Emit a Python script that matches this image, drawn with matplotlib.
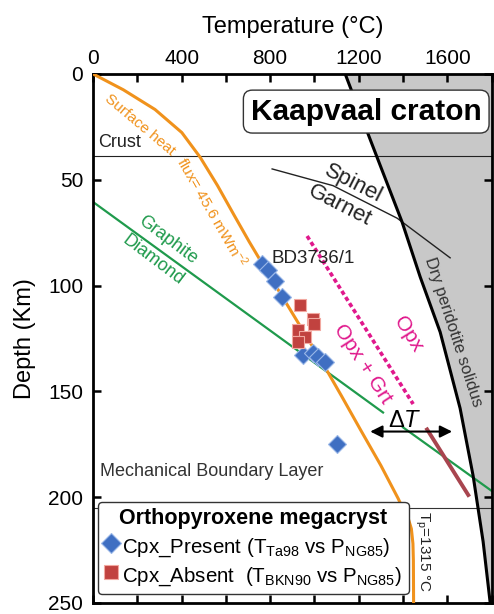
import matplotlib
matplotlib.use("Agg")
import matplotlib.pyplot as plt
from matplotlib.lines import Line2D

plt.rcParams['font.family'] = ['Liberation Sans', 'DejaVu Sans']
plt.rcParams['mathtext.fontset'] = 'custom'
plt.rcParams['mathtext.rm'] = 'Liberation Sans'
plt.rcParams['mathtext.it'] = 'Liberation Sans:italic'

# geotherm, surface heat flux 45.6 mW/m2 (T degC, depth km)
geo_T = [0, 137, 280, 401, 484, 562, 637, 706, 758, 1039, 1123, 1210, 1300,
         1378, 1400, 1425, 1438, 1445, 1447, 1448]
geo_D = [0, 7.5, 16.8, 27.7, 39.4, 52.7, 66.7, 79.4, 88.5, 137, 152.3, 168.5, 185,
         200.6, 205.5, 210.5, 215, 222, 230, 250]

# dry peridotite solidus
sol_T = [1139, 1252, 1396, 1478, 1568, 1658, 1717, 1762, 1794]
sol_D = [0, 31, 70, 96, 122, 158, 190, 221, 250]

# spinel / garnet transition
sg_T = [809, 1084, 1374, 1613]
sg_D = [44.9, 52.8, 68.2, 86.9]

# graphite / diamond (two pieces, gap at the delta-T label)
gd1_T, gd1_D = [0, 1310], [60.5, 160]
gd2_T, gd2_D = [1400, 1800], [167, 197]

# Opx / Opx+Grt boundary
opx_T, opx_D = [967, 1446], [76.6, 156]

# dark red segment
seg_T, seg_D = [1509, 1695], [168, 199]

crust_D = 39
mbl_D = 205

# Cpx_Present (T_Ta98 vs P_NG85)
cpx_pres_T = [764, 791, 822, 854, 949, 994, 1017, 1048, 1103]
cpx_pres_D = [90, 92.5, 97.7, 105.6, 132.7, 132, 133.6, 136, 175]

# Cpx_Absent (T_BKN90 vs P_NG85)
cpx_abs_T = [935, 994, 999, 926, 958, 926]
cpx_abs_D = [109.3, 115.9, 118.2, 121, 124.3, 126.6]

ORANGE = "#f0921c"
GREEN = "#1f9a4c"
MAGENTA = "#e0188c"
BLUE = "#3f6fc2"
RED = "#c1423f"

fig = plt.figure(figsize=(4.94, 6.14), dpi=100)
ax = fig.add_axes([0.1883, 0.018, 0.8067, 0.8616])

ax.fill_betweenx(sol_D, sol_T, 1800, color="#c8c8c8", zorder=0)
ax.plot(sol_T, sol_D, color="black", lw=2.2, zorder=3)

ax.axhline(crust_D, color="#222222", lw=0.8, zorder=1)
ax.axhline(mbl_D, color="#333333", lw=0.8, zorder=1)

ax.plot(sg_T, sg_D, color="#222222", lw=1.0, zorder=2)
ax.plot(gd1_T, gd1_D, color=GREEN, lw=1.6, zorder=2)
ax.plot(gd2_T, gd2_D, color=GREEN, lw=1.6, zorder=2)
ax.plot(opx_T, opx_D, color=MAGENTA, lw=2.6, ls=(0, (1.2, 0.8)), zorder=2)
ax.plot(seg_T, seg_D, color="#a8454f", lw=2.8, zorder=2)
ax.plot(geo_T, geo_D, color=ORANGE, lw=2.2, zorder=3)

ax.plot(cpx_pres_T, cpx_pres_D, ls="none", marker="D", ms=9.5, mfc=BLUE,
        mec="#9ab8e8", mew=0.8, zorder=5)
ax.plot(cpx_abs_T, cpx_abs_D, ls="none", marker="s", ms=9, mfc=RED,
        mec="#f2a8a0", mew=0.8, zorder=5)

ax.annotate("", xy=(1252, 169), xytext=(1622, 169),
            arrowprops=dict(arrowstyle="<|-|>", color="black", lw=1.5,
                            mutation_scale=18, shrinkA=0, shrinkB=0), zorder=4)
ax.text(1410, 164, r"$\Delta T$", fontsize=17, ha="center", va="center")

ax.text(1234, 17.8, "Kaapvaal craton", fontsize=21.5, fontweight="bold",
        ha="center", va="center", zorder=6,
        bbox=dict(boxstyle="round,pad=0.25,rounding_size=0.3", fc="white",
                  ec="#333333", lw=1.0))

ax.text(25, 36.5, "Crust", fontsize=13, color="#222222", ha="left", va="bottom")
ax.text(32, 188, "Mechanical Boundary Layer", fontsize=13, color="#333333",
        ha="left", va="center")
# heat flux label follows the bend of the geotherm in two pieces
ax.text(59, 10.8, "Surface heat", fontsize=11, color=ORANGE,
        rotation=-40, rotation_mode="anchor", ha="left", va="center")
ax.text(398, 40, "flux= 45.6 mWm$^{-2}$", fontsize=11, color=ORANGE,
        rotation=-60, rotation_mode="anchor", ha="left", va="center")
ax.text(339, 78.6, "Graphite", fontsize=13, color=GREEN, rotation=-37,
        rotation_mode="anchor", ha="center", va="center")
ax.text(271, 88, "Diamond", fontsize=13, color=GREEN, rotation=-37,
        rotation_mode="anchor", ha="center", va="center")
ax.text(1175, 52, "Spinel", fontsize=16, color="#222222", rotation=-27,
        rotation_mode="anchor", ha="center", va="center")
ax.text(1116, 62, "Garnet", fontsize=16, color="#222222", rotation=-27,
        rotation_mode="anchor", ha="center", va="center")
ax.text(994, 87, "BD3736/1", fontsize=13.5, color="#222222", ha="center", va="center")
ax.text(1424, 123, "Opx", fontsize=15, color=MAGENTA, rotation=-58,
        rotation_mode="anchor", ha="center", va="center")
ax.text(1220, 137, "Opx + Grt", fontsize=15, color=MAGENTA, rotation=-57,
        rotation_mode="anchor", ha="center", va="center")
ax.text(1625, 122, "Dry peridotite solidus", fontsize=12, color="#333333",
        rotation=-72, rotation_mode="anchor", ha="center", va="center")
ax.text(1487, 226, r"T$_{\rm p}$=1315 $\degree$C", fontsize=11, color="#222222",
        rotation=-90, ha="center", va="center")

handles = [
    Line2D([], [], ls="none", marker="D", ms=10, mfc=BLUE, mec="#9ab8e8", mew=0.8),
    Line2D([], [], ls="none", marker="s", ms=10, mfc=RED, mec="#f2a8a0", mew=0.8),
]
labels = [r"Cpx_Present (T$_{\rm Ta98}$ vs P$_{\rm NG85}$)",
          r"Cpx_Absent  (T$_{\rm BKN90}$ vs P$_{\rm NG85}$)"]
leg = ax.legend(handles, labels, loc="lower left", bbox_to_anchor=(0.012, 0.016),
                fontsize=14.8, title="Orthopyroxene megacryst",
                title_fontproperties={"weight": "bold", "size": 15.5},
                frameon=True, fancybox=True, framealpha=1, edgecolor="#333333",
                handlelength=0.7, handleheight=1.5, handletextpad=0.2,
                borderpad=0.3, labelspacing=0.2, borderaxespad=0)
leg.get_frame().set_linewidth(1.0)
leg.set_zorder(7)

ax.set_xlim(0, 1800)
ax.set_ylim(250, 0)
ax.set_xticks([0, 400, 800, 1200, 1600])
ax.set_xticks([200, 600, 1000, 1400, 1800], minor=True)
ax.set_yticks([0, 50, 100, 150, 200, 250])
ax.xaxis.set_label_position("top")
ax.tick_params(axis="x", which="both", top=True, bottom=True, labeltop=True,
               labelbottom=False, direction="in", length=6, width=1.8,
               labelsize=15, pad=4)
ax.tick_params(axis="y", which="both", left=True, right=True, direction="in",
               length=6, width=1.8, labelsize=15, pad=7)
ax.set_xlabel("Temperature (°C)", fontsize=17, labelpad=12)
ax.set_ylabel("Depth (Km)", fontsize=17, labelpad=9)
for s in ax.spines.values():
    s.set_linewidth(2.0)

fig.savefig("out.png", dpi=100)
